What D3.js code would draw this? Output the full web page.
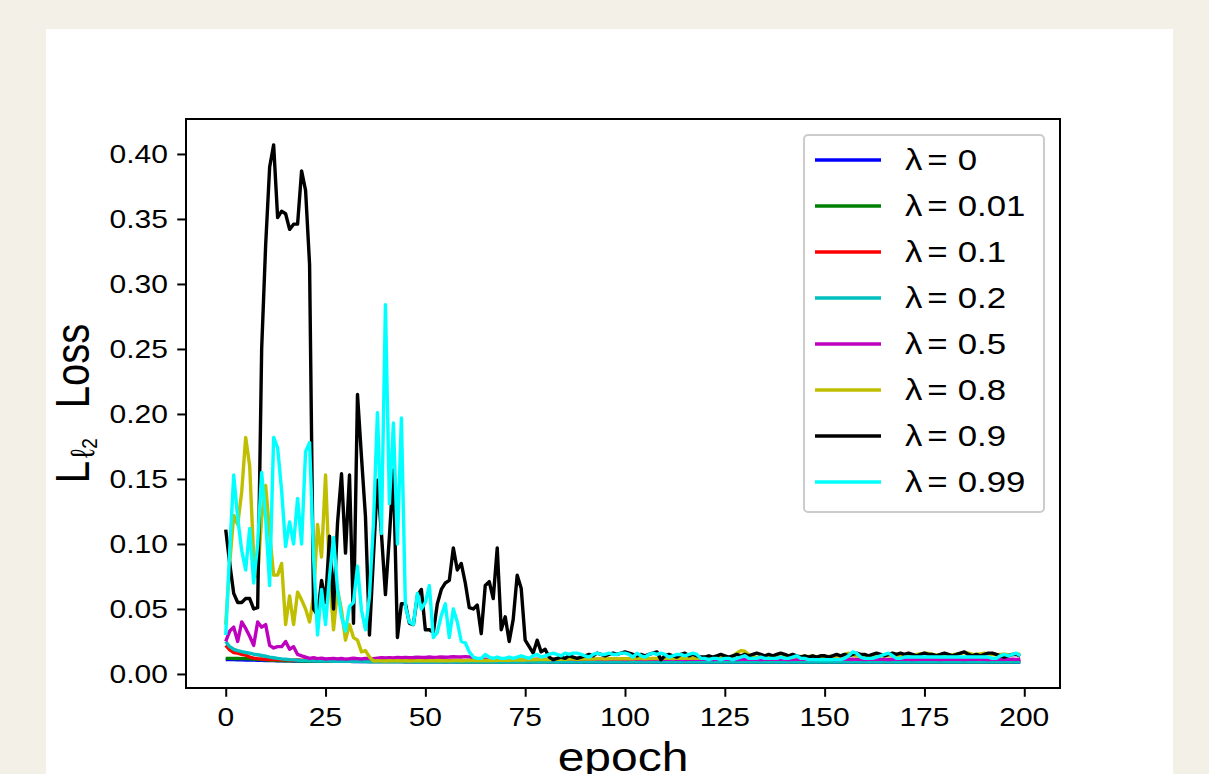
<!DOCTYPE html>
<html><head><meta charset="utf-8">
<script src="https://cdn.jsdelivr.net/npm/d3@7"></script>
<style>
body{margin:0;background:#f3f0e8;}
svg{display:block;}
text{font-family:"Liberation Sans",Arial,Helvetica,sans-serif;fill:#000;}
</style>
</head><body>
<svg id="chart" width="1209" height="774"></svg>
<script>
// ---------------- DATA ----------------
const lambdaLabels = ["0","0.01","0.1","0.2","0.5","0.8","0.9","0.99"];
const seriesColors = ["#0000ff","#008000","#ff0000","#00bfbf","#bf00bf","#bfbf00","#000000","#00ffff"];
const xTicks = [0,25,50,75,100,125,150,175,200];
const yTicks = [0.00,0.05,0.10,0.15,0.20,0.25,0.30,0.35,0.40];

const loss_l0 = [
.0110,.0110,.0110,.0109,.0109,.0108,.0108,.0107,.0106,.0105,
.0104,.0103,.0103,.0102,.0102,.0101,.0101,.0100,.0100,.0100,
.0099,.0099,.0099,.0098,.0098,.0098,.0098,.0097,.0097,.0097,
.0097,.0097,.0096,.0096,.0096,.0096,.0096,.0096,.0095,.0095,
.0095,.0095,.0095,.0095,.0095,.0094,.0095,.0094,.0094,.0095,
.0094,.0094,.0094,.0094,.0095,.0094,.0094,.0094,.0093,.0094,
.0094,.0093,.0094,.0093,.0093,.0094,.0093,.0093,.0093,.0093,
.0093,.0093,.0094,.0093,.0093,.0093,.0092,.0093,.0093,.0093,
.0093,.0092,.0093,.0093,.0092,.0093,.0092,.0092,.0093,.0092,
.0092,.0093,.0092,.0092,.0092,.0092,.0093,.0092,.0092,.0092,
.0092,.0092,.0092,.0091,.0092,.0092,.0092,.0091,.0092,.0092,
.0091,.0092,.0092,.0091,.0092,.0091,.0092,.0092,.0091,.0092,
.0092,.0091,.0092,.0091,.0091,.0092,.0091,.0092,.0091,.0091,
.0092,.0091,.0091,.0092,.0091,.0091,.0091,.0092,.0091,.0091,
.0091,.0092,.0091,.0091,.0091,.0091,.0092,.0091,.0091,.0091,
.0091,.0091,.0092,.0091,.0091,.0091,.0091,.0091,.0092,.0091,
.0091,.0091,.0091,.0091,.0092,.0091,.0091,.0091,.0091,.0091,
.0092,.0091,.0091,.0091,.0091,.0091,.0092,.0091,.0091,.0091,
.0091,.0091,.0091,.0092,.0091,.0091,.0091,.0091,.0091,.0092,
.0091,.0091,.0091,.0091,.0091,.0092,.0091,.0091,.0091,.0091];

const loss_l001 = [
.0120,.0120,.0119,.0119,.0118,.0118,.0117,.0115,.0112,.0110,
.0108,.0106,.0105,.0104,.0103,.0102,.0102,.0101,.0101,.0100,
.0100,.0100,.0099,.0099,.0099,.0099,.0098,.0098,.0098,.0098,
.0098,.0097,.0097,.0097,.0097,.0097,.0096,.0097,.0096,.0096,
.0096,.0096,.0096,.0096,.0095,.0096,.0095,.0096,.0095,.0095,
.0095,.0095,.0095,.0095,.0095,.0094,.0095,.0095,.0094,.0095,
.0094,.0095,.0094,.0094,.0095,.0094,.0094,.0094,.0095,.0094,
.0094,.0094,.0094,.0095,.0094,.0094,.0094,.0094,.0094,.0095,
.0094,.0094,.0094,.0094,.0094,.0094,.0095,.0094,.0094,.0094,
.0094,.0094,.0094,.0094,.0094,.0095,.0094,.0094,.0094,.0094,
.0094,.0094,.0095,.0094,.0094,.0094,.0094,.0094,.0094,.0094,
.0095,.0094,.0094,.0094,.0094,.0094,.0094,.0095,.0094,.0094,
.0094,.0094,.0094,.0094,.0095,.0094,.0094,.0094,.0094,.0094,
.0094,.0095,.0094,.0094,.0094,.0094,.0094,.0094,.0095,.0094,
.0094,.0094,.0094,.0095,.0094,.0094,.0094,.0094,.0094,.0094,
.0095,.0094,.0094,.0094,.0094,.0094,.0095,.0094,.0094,.0094,
.0094,.0094,.0095,.0094,.0094,.0094,.0094,.0094,.0094,.0095,
.0094,.0094,.0094,.0094,.0095,.0094,.0094,.0094,.0094,.0094,
.0094,.0095,.0094,.0094,.0094,.0094,.0094,.0095,.0094,.0094,
.0094,.0094,.0094,.0095,.0094,.0094,.0094,.0094,.0095,.0094];

const loss_l01 = [
.0220,.0185,.0165,.0160,.0150,.0145,.0130,.0122,.0118,.0115,
.0112,.0110,.0112,.0110,.0108,.0110,.0107,.0106,.0108,.0105,
.0110,.0106,.0104,.0108,.0105,.0103,.0104,.0106,.0103,.0102,
.0104,.0103,.0105,.0102,.0103,.0104,.0102,.0103,.0105,.0102,
.0103,.0102,.0104,.0103,.0102,.0103,.0105,.0102,.0103,.0102,
.0104,.0102,.0103,.0102,.0104,.0103,.0102,.0103,.0104,.0102,
.0103,.0102,.0104,.0102,.0103,.0102,.0103,.0104,.0102,.0103,
.0102,.0104,.0103,.0102,.0103,.0102,.0104,.0102,.0103,.0102,
.0103,.0104,.0102,.0103,.0102,.0104,.0103,.0102,.0103,.0104,
.0102,.0103,.0102,.0104,.0103,.0102,.0103,.0102,.0104,.0103,
.0104,.0105,.0103,.0104,.0106,.0104,.0103,.0105,.0104,.0106,
.0105,.0104,.0106,.0105,.0107,.0105,.0104,.0103,.0104,.0103,
.0102,.0103,.0104,.0102,.0103,.0102,.0104,.0103,.0102,.0103,
.0104,.0102,.0103,.0102,.0104,.0103,.0102,.0103,.0102,.0104,
.0103,.0102,.0103,.0104,.0102,.0103,.0102,.0104,.0103,.0102,
.0103,.0104,.0102,.0103,.0102,.0104,.0103,.0102,.0103,.0104,
.0102,.0103,.0102,.0104,.0103,.0102,.0103,.0102,.0104,.0103,
.0102,.0103,.0104,.0102,.0103,.0102,.0104,.0103,.0102,.0103,
.0104,.0102,.0103,.0102,.0104,.0103,.0102,.0103,.0104,.0102,
.0103,.0102,.0104,.0103,.0102,.0103,.0102,.0104,.0103,.0102];

const loss_l02 = [
.0250,.0210,.0190,.0180,.0172,.0165,.0160,.0152,.0148,.0142,
.0136,.0130,.0125,.0120,.0116,.0113,.0110,.0108,.0106,.0104,
.0103,.0102,.0101,.0100,.0100,.0099,.0099,.0098,.0098,.0098,
.0097,.0097,.0097,.0097,.0096,.0096,.0096,.0096,.0096,.0095,
.0095,.0095,.0095,.0095,.0095,.0095,.0094,.0095,.0094,.0094,
.0094,.0094,.0094,.0094,.0094,.0094,.0093,.0094,.0094,.0093,
.0094,.0093,.0093,.0094,.0093,.0093,.0093,.0094,.0093,.0093,
.0093,.0093,.0093,.0094,.0093,.0093,.0093,.0093,.0093,.0093,
.0094,.0093,.0093,.0093,.0093,.0093,.0093,.0094,.0093,.0093,
.0093,.0093,.0093,.0093,.0094,.0093,.0093,.0093,.0093,.0093,
.0093,.0094,.0093,.0093,.0093,.0093,.0093,.0093,.0094,.0093,
.0093,.0093,.0093,.0094,.0093,.0093,.0093,.0093,.0093,.0093,
.0094,.0093,.0093,.0093,.0093,.0093,.0094,.0093,.0093,.0093,
.0093,.0093,.0093,.0094,.0093,.0093,.0093,.0093,.0093,.0094,
.0093,.0093,.0093,.0093,.0093,.0094,.0093,.0093,.0093,.0093,
.0093,.0093,.0094,.0093,.0093,.0093,.0093,.0093,.0093,.0094,
.0093,.0093,.0093,.0093,.0094,.0093,.0093,.0093,.0093,.0093,
.0093,.0094,.0093,.0093,.0093,.0093,.0093,.0093,.0094,.0093,
.0093,.0093,.0093,.0093,.0094,.0093,.0093,.0093,.0093,.0093,
.0094,.0093,.0093,.0093,.0093,.0093,.0093,.0094,.0093,.0093];

const loss_l05 = [
.025,.033,.036,.025,.040,.035,.029,.022,.040,.036,
.038,.022,.020,.021,.021,.025,.019,.021,.015,.014,
.0130,.0120,.0125,.0118,.0122,.0115,.0118,.0120,.0116,.0119,
.0114,.0117,.0121,.0118,.0115,.0120,.0118,.0117,.0122,.0125,
.0123,.0126,.0124,.0127,.0125,.0128,.0126,.0127,.0129,.0127,
.0128,.0130,.0128,.0129,.0131,.0129,.0130,.0132,.0130,.0131,
.0133,.0131,.0125,.0115,.0112,.0113,.0111,.0112,.0114,.0112,
.0113,.0111,.0112,.0114,.0112,.0113,.0111,.0112,.0113,.0112,
.0114,.0112,.0111,.0113,.0112,.0114,.0112,.0113,.0111,.0112,
.0113,.0112,.0114,.0112,.0113,.0111,.0112,.0114,.0113,.0112,
.0111,.0113,.0112,.0114,.0112,.0111,.0113,.0112,.0113,.0115,
.0113,.0112,.0114,.0112,.0113,.0111,.0112,.0113,.0112,.0114,
.0112,.0113,.0111,.0112,.0114,.0112,.0113,.0112,.0111,.0113,
.0112,.0114,.0112,.0113,.0111,.0112,.0113,.0112,.0114,.0112,
.0113,.0111,.0112,.0114,.0112,.0113,.0112,.0111,.0113,.0112,
.0114,.0112,.0113,.0111,.0112,.0113,.0112,.0114,.0112,.0113,
.0111,.0112,.0114,.0112,.0113,.0112,.0111,.0113,.0112,.0114,
.0112,.0113,.0111,.0112,.0113,.0112,.0114,.0112,.0113,.0111,
.0112,.0114,.0112,.0113,.0112,.0111,.0113,.0112,.0114,.0112,
.0113,.0111,.0112,.0113,.0112,.0114,.0112,.0113,.0112,.0113];

const loss_l08 = [
.038,.085,.122,.115,.140,.182,.160,.090,.075,.120,
.145,.108,.076,.076,.085,.038,.060,.038,.063,.057,
.050,.040,.060,.115,.090,.153,.075,.034,.065,.049,
.026,.038,.028,.026,.017,.018,.013,.0100,.0102,.0101,
.0100,.0102,.0101,.0103,.0101,.0102,.0100,.0101,.0103,.0102,
.0101,.0103,.0102,.0104,.0102,.0103,.0101,.0103,.0104,.0102,
.0103,.0105,.0103,.0104,.0106,.0104,.0105,.0103,.0106,.0105,
.0107,.0106,.0108,.0107,.0109,.0108,.0110,.0109,.0111,.0110,
.0112,.0111,.0113,.0112,.0114,.0113,.0115,.0114,.0113,.0115,
.0116,.0114,.0115,.0117,.0116,.0115,.0117,.0118,.0116,.0117,
.0118,.0117,.0116,.0118,.0119,.0117,.0118,.0120,.0119,.0118,
.0120,.0121,.0119,.0120,.0122,.0121,.0120,.0122,.0121,.0123,
.0122,.0124,.0123,.0125,.0124,.0126,.0128,.0135,.0160,.0180,
.0175,.0150,.0135,.0128,.0130,.0132,.0129,.0131,.0133,.0130,
.0132,.0134,.0131,.0133,.0135,.0132,.0134,.0136,.0133,.0135,
.0137,.0134,.0136,.0138,.0140,.0150,.0160,.0145,.0138,.0140,
.0142,.0139,.0141,.0143,.0140,.0142,.0144,.0141,.0143,.0145,
.0142,.0144,.0146,.0150,.0155,.0160,.0158,.0150,.0146,.0148,
.0150,.0147,.0149,.0152,.0158,.0165,.0160,.0152,.0150,.0155,
.0160,.0155,.0150,.0148,.0150,.0152,.0148,.0150,.0155,.0150];

const loss_l09 = [
.111,.085,.062,.055,.055,.058,.058,.050,.051,.250,
.330,.390,.407,.351,.356,.354,.342,.346,.346,.387,
.372,.315,.050,.045,.072,.055,.106,.050,.116,.154,
.093,.153,.039,.215,.167,.121,.030,.090,.149,.108,
.061,.106,.157,.028,.054,.054,.039,.038,.060,.065,
.034,.034,.032,.054,.065,.070,.072,.097,.080,.085,
.070,.051,.050,.053,.031,.068,.071,.058,.097,.034,
.044,.025,.042,.076,.066,.026,.021,.016,.026,.017,
.019,.013,.011,.012,.013,.012,.014,.013,.012,.013,
.014,.015,.014,.016,.015,.014,.015,.016,.015,.016,
.017,.016,.015,.014,.015,.014,.015,.016,.017,.011,
.014,.015,.014,.013,.015,.016,.014,.015,.014,.013,
.013,.014,.013,.014,.015,.014,.013,.014,.015,.014,
.015,.014,.015,.016,.015,.014,.015,.014,.015,.016,
.015,.014,.015,.014,.013,.014,.013,.014,.013,.014,
.014,.013,.014,.015,.014,.015,.014,.015,.016,.015,
.015,.014,.015,.016,.015,.014,.015,.016,.015,.016,
.015,.016,.015,.014,.015,.016,.015,.015,.014,.015,
.016,.015,.014,.015,.016,.017,.015,.014,.015,.014,
.015,.016,.016,.015,.014,.013,.014,.015,.015,.014];

const loss_l099 = [
.030,.095,.153,.120,.095,.080,.112,.070,.100,.155,
.120,.068,.182,.174,.141,.098,.117,.100,.135,.100,
.171,.178,.090,.030,.065,.038,.075,.105,.065,.044,
.033,.052,.055,.083,.049,.034,.060,.116,.201,.108,
.284,.131,.193,.100,.197,.052,.040,.038,.062,.050,
.055,.068,.028,.032,.045,.054,.028,.050,.040,.025,
.024,.017,.013,.012,.012,.015,.013,.012,.013,.012,
.012,.013,.012,.013,.014,.013,.012,.014,.015,.013,
.014,.015,.016,.015,.014,.016,.015,.016,.016,.015,
.014,.013,.015,.016,.015,.015,.016,.015,.015,.016,
.016,.015,.013,.016,.014,.013,.015,.016,.015,.016,
.015,.013,.014,.015,.015,.014,.015,.016,.015,.012,
.012,.011,.012,.012,.011,.012,.012,.011,.012,.013,
.014,.012,.012,.012,.013,.012,.012,.012,.012,.013,
.012,.012,.013,.014,.012,.012,.011,.011,.011,.011,
.011,.011,.011,.011,.011,.012,.014,.017,.016,.013,
.012,.012,.012,.013,.014,.015,.016,.014,.012,.012,
.013,.013,.013,.013,.013,.013,.013,.013,.013,.013,
.013,.013,.013,.013,.013,.013,.013,.013,.013,.013,
.013,.013,.012,.012,.014,.015,.014,.015,.016,.014];

const seriesValues = [loss_l0, loss_l001, loss_l01, loss_l02, loss_l05, loss_l08, loss_l09, loss_l099];

// ---------------- LAYOUT ----------------
const svg = d3.select("#chart");
const W = 1209, H = 774;
const plot = {left:186, right:1060, top:119, bottom:688};
const SX = 1.2; // horizontal glyph stretch seen in reference

svg.append("rect").attr("x",0).attr("y",0).attr("width",W).attr("height",H).attr("fill","#f3f0e8");
svg.append("rect").attr("x",46).attr("y",29).attr("width",1127).attr("height",H-29).attr("fill","#ffffff");

const n = d3.max(seriesValues, s => s.length);
const xMin = 0, xMax = n - 1;
const xPad = (xMax - xMin) * 0.05;
const allVals = seriesValues.flat();
const yLo = d3.min(allVals), yHi = d3.max(allVals);
const yPad = (yHi - yLo) * 0.05;

const x = d3.scaleLinear().domain([xMin - xPad, xMax + xPad]).range([plot.left, plot.right]);
const y = d3.scaleLinear().domain([yLo - yPad, yHi + yPad]).range([plot.bottom, plot.top]);

const g = svg.append("g");

const clipId = "plotclip";
svg.append("defs").append("clipPath").attr("id",clipId).append("rect")
  .attr("x",plot.left).attr("y",plot.top).attr("width",plot.right-plot.left).attr("height",plot.bottom-plot.top);

const line = d3.line().x((d,i)=>x(i)).y(d=>y(d));
const linesG = g.append("g").attr("clip-path","url(#"+clipId+")");
seriesValues.forEach((vals, k) => {
  linesG.append("path").datum(vals)
    .attr("d", line)
    .attr("fill","none")
    .attr("stroke", seriesColors[k])
    .attr("stroke-width", 3.4)
    .attr("stroke-linejoin","round")
    .attr("stroke-linecap","butt");
});

// frame
g.append("rect").attr("x",plot.left).attr("y",plot.top)
  .attr("width",plot.right-plot.left).attr("height",plot.bottom-plot.top)
  .attr("fill","none").attr("stroke","#000").attr("stroke-width",2);

// axes via d3
const fmtY = d3.format(".2f");
const xAxis = d3.axisBottom(x).tickValues(xTicks).tickSize(8.75).tickPadding(0).tickFormat("");
const yAxis = d3.axisLeft(y).tickValues(yTicks).tickSize(8.75).tickPadding(0).tickFormat("");
const xg = g.append("g").attr("transform",`translate(0,${plot.bottom})`).call(xAxis);
const yg = g.append("g").attr("transform",`translate(${plot.left},0)`).call(yAxis);
[xg,yg].forEach(a=>{ a.select(".domain").remove(); a.selectAll(".tick line").attr("stroke","#000").attr("stroke-width",2); });

// tick labels (stretched text)
const TF = 25;
xTicks.forEach(t => {
  g.append("text").attr("transform",`translate(${x(t)},726) scale(${SX},1)`)
    .attr("text-anchor","middle").attr("font-size",TF).text(String(t));
});
yTicks.forEach(t => {
  g.append("text").attr("transform",`translate(168,${y(t)+9}) scale(${SX},1)`)
    .attr("text-anchor","end").attr("font-size",TF).text(fmtY(t));
});

// x label (cut by the lower edge as in the reference)
g.append("text").attr("transform",`translate(${(plot.left+plot.right)/2},771) scale(${SX},1)`)
  .attr("text-anchor","middle").attr("font-size",40).text("epoch");

// y label
const yl = g.append("text").attr("transform",`translate(89,${(plot.top+plot.bottom)/2}) scale(${SX},1) rotate(-90)`)
  .attr("text-anchor","middle").attr("font-size",40);
yl.append("tspan").text("L");
yl.append("tspan").attr("font-size",28).attr("dx",3).attr("dy",4).text("ℓ");
yl.append("tspan").attr("font-size",19).attr("dy",3).text("2");
yl.append("tspan").attr("font-size",40).attr("dx",30).attr("dy",-7).text("Loss");

// legend
const leg = g.append("g");
leg.append("rect").attr("x",804).attr("y",135).attr("width",240).attr("height",377).attr("rx",4)
  .attr("fill","#ffffff").attr("fill-opacity",0.8).attr("stroke","#cccccc").attr("stroke-width",2);
lambdaLabels.forEach((lab,k) => {
  const cy = 160 + k*46;
  leg.append("line").attr("x1",815).attr("x2",881).attr("y1",cy).attr("y2",cy)
    .attr("stroke",seriesColors[k]).attr("stroke-width",3.4);
  const t = leg.append("text").attr("transform",`translate(905,${cy+10.4}) scale(${SX},1)`).attr("font-size",29);
  t.append("tspan").text("λ");
  t.append("tspan").attr("dx",4).text("=");
  t.append("tspan").attr("dx",8.5).text(lab);
});
</script>
</body></html>
